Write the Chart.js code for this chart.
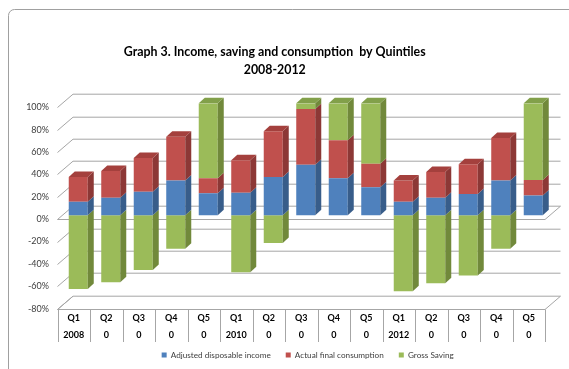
<!DOCTYPE html>
<html>
<head>
<meta charset="utf-8">
<script src="https://cdn.jsdelivr.net/npm/chart.js@4/dist/chart.umd.min.js"></script>
<style>
  html, body { margin: 0; padding: 0; background: #fff; }
  #wrap { width: 569px; height: 369px; }
</style>
</head>
<body>
<div id="wrap"><canvas id="chart" width="569" height="369"></canvas></div>
<script>
// values (percent)
const quarters = ['Q1', 'Q2', 'Q3', 'Q4', 'Q5', 'Q1', 'Q2', 'Q3', 'Q4', 'Q5', 'Q1', 'Q2', 'Q3', 'Q4', 'Q5'];
const years = ['2008', '0', '0', '0', '0', '2010', '0', '0', '0', '0', '2012', '0', '0', '0', '0'];
const income = [12, 15.5, 21, 31, 19.5, 20, 34, 45, 33, 25, 12, 15.5, 19, 31, 17.5];
const consumption = [22, 24, 30, 39, 13.5, 29, 41, 50, 34, 21, 19, 23, 26.5, 38, 14];
const saving = [-66, -60, -49, -30, 67, -51, -25, 5, 33, 54, -68, -61, -54, -30, 68.5];

const frontColors = ['#4f81bd', '#c0504d', '#9bbb59'];
const sideColors = ['#385d8a', '#8c3836', '#71893b'];
const topColors = ['#44709f', '#a4403d', '#82a04a'];

// fake 3d offsets (px) relative to the plane the bars sit in
const FRONT = { dx: -4.5, dy: 4 };
const BACK = { dx: 11, dy: -9.3 };
const DEPTH = { dx: 6, dy: -5.5 };
const LEGEND_SHIFT = 33;

const line = (ctx, pts) => {
    ctx.beginPath();
    ctx.moveTo(pts[0][0], pts[0][1]);
    for (let i = 1; i < pts.length; i++) ctx.lineTo(pts[i][0], pts[i][1]);
    ctx.stroke();
};

const quad = (ctx, pts, color) => {
    ctx.fillStyle = color;
    ctx.beginPath();
    ctx.moveTo(pts[0][0], pts[0][1]);
    for (let i = 1; i < pts.length; i++) ctx.lineTo(pts[i][0], pts[i][1]);
    ctx.closePath();
    ctx.fill();
};

const fake3d = {
    id: 'fake3d',
    afterLayout(chart) {
        // legend sits right of centre in the original
        chart.legend.left += LEGEND_SHIFT;
        chart.legend.right += LEGEND_SHIFT;
        // let the two-row category labels run past the scale box (labels are clipped to it)
        chart.scales.x.bottom += 16;
    },
    beforeDraw(chart) {
        const ctx = chart.ctx;
        ctx.save();
        ctx.fillStyle = '#fff';
        ctx.fillRect(0, 0, chart.width, chart.height);
        ctx.strokeStyle = '#a0a0a0';
        ctx.lineWidth = 1;
        ctx.beginPath();
        ctx.roundRect(8.5, 9.5, 620, 420, 6);
        ctx.stroke();
        ctx.restore();
    },
    beforeDatasetsDraw(chart) {
        const { ctx, chartArea: a, scales: { y } } = chart;
        ctx.save();
        ctx.strokeStyle = '#a6a6a6';
        ctx.lineWidth = 1;
        y.ticks.forEach(t => {
            const py = Math.round(y.getPixelForValue(t.value)) + 0.5;
            line(ctx, [[a.left + FRONT.dx, py + FRONT.dy], [a.left + BACK.dx, py + BACK.dy], [a.right + BACK.dx, py + BACK.dy]]);
        });
        // front edge of the floor at zero
        const z = Math.round(y.getPixelForValue(0)) + 0.5;
        line(ctx, [[a.left + FRONT.dx, z + FRONT.dy], [a.right + FRONT.dx, z + FRONT.dy], [a.right + BACK.dx, z + BACK.dy]]);
        // bottom floor
        const b = Math.round(y.getPixelForValue(y.min)) + 0.5;
        line(ctx, [[a.left + BACK.dx, b + BACK.dy], [a.left + FRONT.dx, b + FRONT.dy], [a.right + FRONT.dx, b + FRONT.dy], [a.right + BACK.dx, b + BACK.dy]]);
        // category table
        const n = chart.data.labels.length;
        const w = (a.right - a.left) / n;
        for (let i = 0; i <= n; i++) {
            const px = Math.round(a.left + FRONT.dx + i * w) + 0.5;
            line(ctx, [[px, b + FRONT.dy], [px, 342]]);
        }
        ctx.restore();
    },
    afterDatasetsDraw(chart) {
        const ctx = chart.ctx;
        const metas = chart.data.datasets.map((d, i) => chart.getDatasetMeta(i));
        ctx.save();
        chart.data.labels.forEach((_, i) => {
            const segs = metas.map((m, d) => ({ d, el: m.data[i], v: chart.data.datasets[d].data[i] }));
            const pos = segs.filter(s => s.v >= 0);
            const order = segs.filter(s => s.v < 0).concat(pos);
            order.forEach(s => {
                const { x, y, base, width } = s.el;
                const r = x + width / 2;
                const top = Math.min(y, base), bot = Math.max(y, base);
                quad(ctx, [[r, bot], [r, top], [r + DEPTH.dx, top + DEPTH.dy], [r + DEPTH.dx, bot + DEPTH.dy]], sideColors[s.d]);
            });
            const t = pos[pos.length - 1];
            if (t) {
                const { x, y, base, width } = t.el;
                const l = x - width / 2, r = x + width / 2, top = Math.min(y, base);
                quad(ctx, [[l, top], [r, top], [r + DEPTH.dx, top + DEPTH.dy], [l + DEPTH.dx, top + DEPTH.dy]], topColors[t.d]);
            }
        });
        ctx.restore();
    }
};

new Chart(document.getElementById('chart'), {
    type: 'bar',
    data: {
        labels: quarters.map((q, i) => [q, years[i]]),
        datasets: [
            { label: 'Adjusted disposable income', data: income, backgroundColor: frontColors[0] },
            { label: 'Actual final consumption', data: consumption, backgroundColor: frontColors[1] },
            { label: 'Gross Saving', data: saving, backgroundColor: frontColors[2] }
        ]
    },
    options: {
        responsive: false,
        animation: false,
        devicePixelRatio: 1,
        layout: { padding: { left: 0, right: 19.5, top: 0, bottom: 0 } },
        datasets: { bar: { barPercentage: 0.585, categoryPercentage: 1, borderWidth: 0 } },
        plugins: {
            title: {
                display: true,
                text: ['Graph 3. Income, saving and consumption  by Quintiles', '2008-2012'],
                color: '#000',
                font: { family: 'Lato', size: 12.4, weight: 'bold', lineHeight: 18 / 12.4 },
                padding: { top: 43, bottom: 24.3 }
            },
            legend: {
                position: 'bottom',
                labels: {
                    color: '#404040',
                    font: { family: 'Lato', size: 8.2 },
                    boxWidth: 5,
                    boxHeight: 5,
                    padding: 15
                }
            },
            tooltip: { enabled: false }
        },
        scales: {
            x: {
                stacked: true,
                grid: { display: false, drawTicks: false },
                border: { display: false },
                ticks: {
                    color: '#000',
                    font: { family: 'Lato', size: 9, weight: 'bold', lineHeight: 17 / 9 },
                    padding: 5,
                    labelOffset: FRONT.dx,
                    maxRotation: 0,
                    autoSkip: false
                },
                afterFit(scale) { scale.height = 31.2; }
            },
            y: {
                stacked: true,
                min: -80,
                max: 100,
                grid: { display: false, drawTicks: false },
                border: { display: false },
                ticks: {
                    stepSize: 20,
                    color: '#404040',
                    font: { family: 'Lato', size: 9 },
                    padding: 13,
                    labelOffset: FRONT.dy,
                    callback: v => v + '%'
                },
                afterFit(scale) { scale.width = 62; }
            }
        }
    },
    plugins: [fake3d]
});
</script>
</body>
</html>
